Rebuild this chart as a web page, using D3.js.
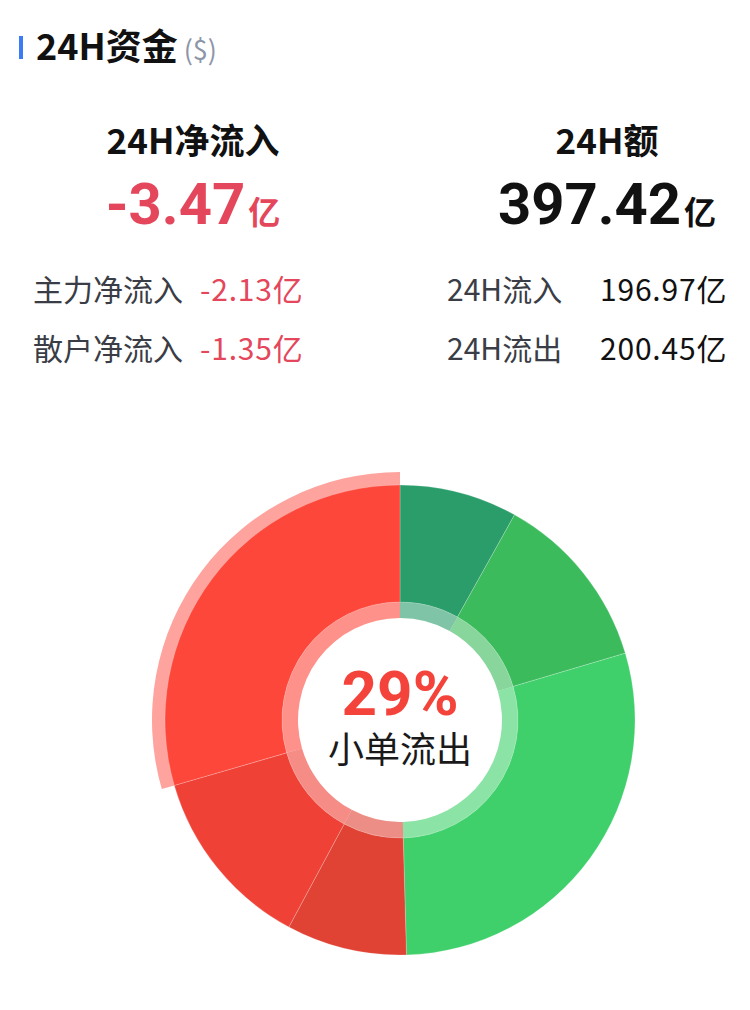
<!DOCTYPE html>
<html>
<head>
<meta charset="utf-8">
<script src="https://cdn.jsdelivr.net/npm/d3@7"></script>
<style>
  html, body { margin: 0; padding: 0; background: #fff; }
  svg { display: block; }
</style>
</head>
<body>
<div id="chart"></div>
<script>
"use strict";

// values in 亿 ($)
const flowLabels = ['大单流入', '中单流入', '小单流入', '大单流出', '中单流出', '小单流出']
const flowValues = [32.2, 48.92, 115.85, 32.9, 50.35, 117.2]
const flowColors = ['#2a9d6a', '#3bbb5c', '#3fd06b', '#e04334', '#ef4136', '#fe473b']
const highlightIndex = 5

const summaryLabels = ['24H净流入', '24H额']
const summaryValues = [-3.47, 397.42]
const leftRowLabels = ['主力净流入', '散户净流入']
const leftRowValues = [-2.13, -1.35]
const rightRowLabels = ['24H流入', '24H流出']
const rightRowValues = [196.97, 200.45]

const W = 750, H = 1010
const CJK = '"Noto Sans CJK SC", "Noto Sans", sans-serif'
const NUM = 'Roboto, "Noto Sans", sans-serif'
const RED = '#e4465b'

const svg = d3.select('#chart')
  .append('svg')
  .attr('width', W)
  .attr('height', H)

svg.append('rect')
  .attr('width', W)
  .attr('height', H)
  .attr('fill', '#fff')

// header
svg.append('rect')
  .attr('x', 19)
  .attr('y', 36)
  .attr('width', 4)
  .attr('height', 23)
  .attr('fill', '#3b7cf5')

const title = svg.append('text')
  .attr('x', 36)
  .attr('y', 60)
  .attr('font-family', CJK)

title.append('tspan')
  .attr('font-size', 36)
  .attr('font-weight', 700)
  .attr('fill', '#111')
  .text('24H资金')

title.append('tspan')
  .attr('dx', 6)
  .attr('font-size', 27)
  .attr('fill', '#8d96a8')
  .text('($)')

// summary blocks
const fmtSigned = v => (v < 0 ? '-' : '') + d3.format('.2f')(Math.abs(v))
const blockX = [193, 607]

summaryLabels.forEach((label, i) => {
  svg.append('text')
    .attr('x', blockX[i])
    .attr('y', 154)
    .attr('text-anchor', 'middle')
    .attr('font-family', CJK)
    .attr('font-size', 35)
    .attr('font-weight', 700)
    .attr('fill', '#111')
    .text(label)

  const v = summaryValues[i]
  const t = svg.append('text')
    .attr('x', blockX[i])
    .attr('y', 224)
    .attr('text-anchor', 'middle')
    .attr('font-weight', 700)
    .attr('fill', i === 0 ? RED : '#111')

  t.append('tspan')
    .attr('font-family', NUM)
    .attr('font-size', 58)
    .text(fmtSigned(v))

  t.append('tspan')
    .attr('dx', 3)
    .attr('font-family', CJK)
    .attr('font-size', 32)
    .text('亿')
})

// detail rows
const rowY = [301, 360]

function rows(labels, values, labelX, valueX, color) {
  labels.forEach((label, i) => {
    svg.append('text')
      .attr('x', labelX)
      .attr('y', rowY[i])
      .attr('font-family', CJK)
      .attr('font-size', 30)
      .attr('fill', '#3a3d45')
      .text(label)

    svg.append('text')
      .attr('x', valueX)
      .attr('y', rowY[i])
      .attr('font-family', CJK)
      .attr('font-size', 30)
      .attr('letter-spacing', 0.8)
      .attr('fill', color)
      .text(fmtSigned(values[i]) + '亿')
  })
}

rows(leftRowLabels, leftRowValues, 33, 200, RED)
rows(rightRowLabels, rightRowValues, 447, 600, '#111')

// donut
const cx = 400, cy = 720
const R_OUT = 235, R_IN = 118, R_RING = 102, R_HI = 248

const total = d3.sum(flowValues)

const pie = d3.pie()
  .sort(null)
  .value(d => d)

const arcs = pie(flowValues)

const arcMain = d3.arc().innerRadius(R_IN).outerRadius(R_OUT)
const arcRing = d3.arc().innerRadius(R_RING).outerRadius(R_IN)
const arcHi = d3.arc().innerRadius(R_OUT - 1).outerRadius(R_HI)

const g = svg.append('g')
  .attr('transform', `translate(${cx},${cy})`)

g.append('path')
  .attr('d', arcHi(arcs[highlightIndex]))
  .attr('fill', flowColors[highlightIndex])
  .attr('opacity', 0.5)

g.selectAll('path.ring')
  .data(arcs)
  .enter()
  .append('path')
    .attr('class', 'ring')
    .attr('d', arcRing)
    .attr('fill', (d, i) => flowColors[i])
    .attr('opacity', 0.6)

g.selectAll('path.slice')
  .data(arcs)
  .enter()
  .append('path')
    .attr('class', 'slice')
    .attr('d', arcMain)
    .attr('fill', (d, i) => flowColors[i])
    .attr('stroke', 'rgba(255,255,255,0.35)')
    .attr('stroke-width', 0.6)

// centre label: percentage + name as two lines of one text
const pct = Math.round(flowValues[highlightIndex] / total * 100)

const centre = g.append('text')
  .attr('y', -5)
  .attr('text-anchor', 'middle')

centre.append('tspan')
  .attr('x', 0)
  .attr('font-family', NUM)
  .attr('font-size', 62)
  .attr('font-weight', 700)
  .attr('fill', '#f4433a')
  .text(pct + '%')

centre.append('tspan')
  .attr('x', 0)
  .attr('dy', 48)
  .attr('font-family', CJK)
  .attr('font-size', 36)
  .attr('fill', '#1a1a1a')
  .text(flowLabels[highlightIndex])
</script>
</body>
</html>
